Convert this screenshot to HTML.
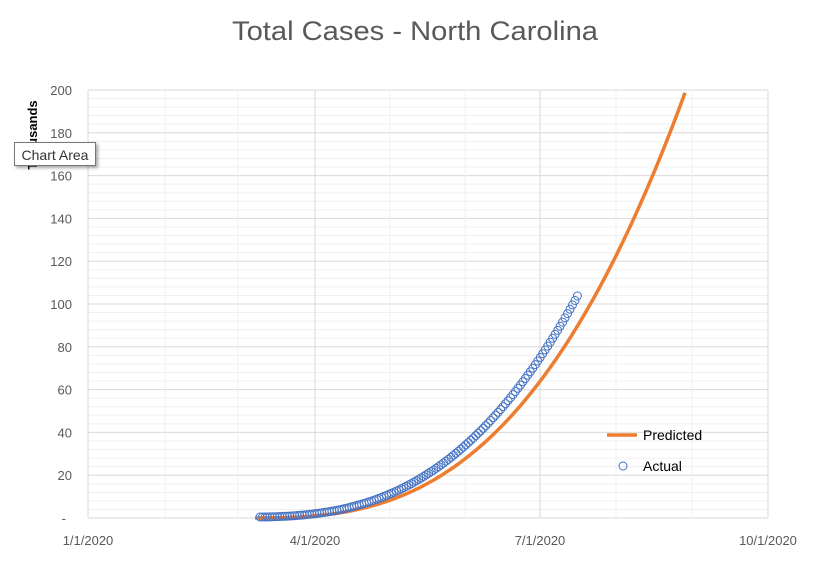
<!DOCTYPE html>
<html><head><meta charset="utf-8"><style>
html,body{margin:0;padding:0;background:#fff;}
#tip{position:absolute;left:14px;top:142px;width:82px;height:24px;border:1px solid #767676;background:#fff;box-shadow:2px 2px 3px rgba(0,0,0,0.35);font:14px "Liberation Sans",sans-serif;color:#333;line-height:24px;text-align:center;box-sizing:border-box;}
</style></head><body>
<div style="position:relative;width:832px;height:579px;overflow:hidden;">
<svg id="s" width="832" height="579" xmlns="http://www.w3.org/2000/svg" style="position:absolute;left:0;top:0;font-family:'Liberation Sans',sans-serif;">
<text x="415" y="40" text-anchor="middle" font-size="27" fill="#595959" textLength="366" lengthAdjust="spacingAndGlyphs">Total Cases - North Carolina</text>
<g id="grid"></g>
<g id="ylab" font-size="13" fill="#595959" text-anchor="end"></g>
<g font-size="13" fill="#595959" text-anchor="middle">
<text x="88" y="545">1/1/2020</text><text x="315" y="545">4/1/2020</text><text x="540" y="545">7/1/2020</text><text x="768" y="545">10/1/2020</text>
</g>
<text transform="translate(37,135) rotate(-90)" font-size="13" font-weight="bold" fill="#000" text-anchor="middle">Thousands</text>
<path id="pred" fill="none" stroke="#ED7D31" stroke-width="3.5"/>
<g id="act" fill="none" stroke="#4472C4" stroke-width="1"></g>
<line x1="607" y1="435" x2="637" y2="435" stroke="#ED7D31" stroke-width="3.5"/>
<text x="643" y="440" font-size="14" fill="#000">Predicted</text>
<circle cx="623" cy="466" r="4" fill="none" stroke="#4472C4"/>
<text x="643" y="471" font-size="14" fill="#000">Actual</text>
</svg>
<div id="tip">Chart Area</div>
</div>
<script>
var NS="http://www.w3.org/2000/svg",s=document.getElementById('s');
function el(t,a,p){var e=document.createElementNS(NS,t);for(var k in a)e.setAttribute(k,a[k]);p.appendChild(e);return e;}
var g=document.getElementById('grid'),yl=document.getElementById('ylab');
function Y(v){return 518-v*2.14;}
for(var v=0;v<=200;v+=4){var y=Y(v);el('line',{x1:88,x2:768,y1:y,y2:y,stroke:v%20==0?'#d9d9d9':'#f0f0f0','stroke-width':1},g);}
var months=[88,165,238,315,390,465,540,616,692,768];
months.forEach(function(x,i){el('line',{x1:x,x2:x,y1:90,y2:518,stroke:i%3==0?'#d9d9d9':'#f0f0f0','stroke-width':1},g);});
for(var v=20;v<=200;v+=20){var t=el('text',{x:72,y:Y(v)+5},yl);t.textContent=v;}
var t=el('text',{x:66,y:523},yl);t.textContent='-';
function P(x){return x<=250?0:200*Math.pow((x-250)/436,2.8);}
var d='';for(var x=255;x<=690;x+=2){var v=P(x);if(v>201)break;d+=(d?'L':'M')+x+','+Y(v).toFixed(1);}
document.getElementById('pred').setAttribute('d',d);
var a=document.getElementById('act');
for(var x=260;x<=578;x+=2.48){var v=P(x+12+5*(x-260)/318)+0.4;el('circle',{cx:x.toFixed(1),cy:Y(v).toFixed(1),r:4},a);}
</script>
</body></html>
